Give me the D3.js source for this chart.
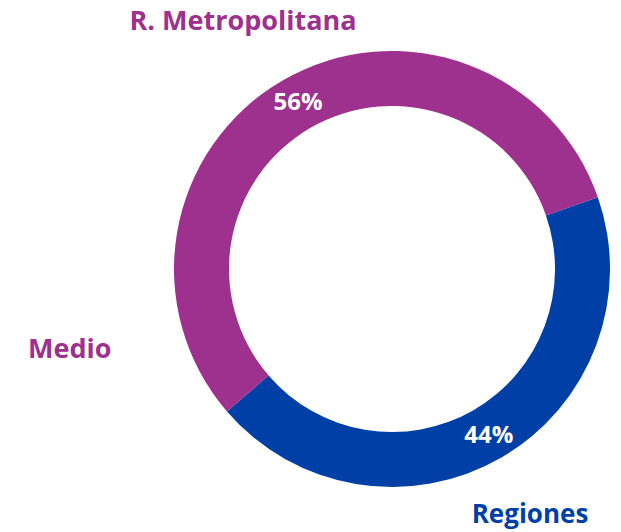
<!DOCTYPE html>
<html>
<head>
<meta charset="utf-8">
<script src="https://cdn.jsdelivr.net/npm/d3@7"></script>
<style>
  body { margin: 0; background: #fff; }
  text { font-family: "Open Sans", Lato, sans-serif; font-weight: bold; }
</style>
</head>
<body>
<div class="chart"></div>
<script>
// DATA ------------------------------
let categories = ["Regiones", "R. Metropolitana"];
let values = [44, 56];
let pctLabels = ["44%", "56%"];
let colors = ["#0040A6", "#9E308E"];

// CHART ------------------------------
let width = 621, height = 532;
let cx = 392, cy = 269;
let outerR = 218, innerR = 163;

let svg = d3.select(".chart")
  .append("svg")
  .attr("width", width)
  .attr("height", height);

let g = svg.append("g")
  .attr("transform", "translate(" + cx + "," + cy + ")");

// blue slice starts at ~70.8deg clockwise from top
let start = 70.8 * Math.PI / 180;
let pie = d3.pie()
  .sort(null)
  .value(d => d)
  .startAngle(start)
  .endAngle(start + 2 * Math.PI);

let arc = d3.arc().innerRadius(innerR).outerRadius(outerR);

let arcs = pie(values);

g.selectAll("path.slice")
  .data(arcs)
  .enter()
  .append("path")
  .attr("class", "slice")
  .attr("d", arc)
  .attr("fill", (d, i) => colors[i]);

// percent labels inside ring, placed near where the reference shows them
let pctAngles = [149.7 * Math.PI / 180, 330.7 * Math.PI / 180];
let pctR = 192;
g.selectAll("text.pct")
  .data(pctLabels)
  .enter()
  .append("text")
  .attr("class", "pct")
  .attr("x", (d, i) => Math.sin(pctAngles[i]) * pctR)
  .attr("y", (d, i) => -Math.cos(pctAngles[i]) * pctR)
  .attr("dy", "0.35em")
  .attr("text-anchor", "middle")
  .attr("fill", "#fff")
  .attr("font-size", 24)
  .text(d => d);

// category labels
svg.append("text")
  .attr("x", 243).attr("y", 30)
  .attr("text-anchor", "middle")
  .attr("fill", colors[1])
  .attr("font-size", 27)
  .text(categories[1]);

svg.append("text")
  .attr("x", 28).attr("y", 358)
  .attr("fill", colors[1])
  .attr("font-size", 27)
  .text("Medio");

svg.append("text")
  .attr("x", 530).attr("y", 523)
  .attr("text-anchor", "middle")
  .attr("fill", colors[0])
  .attr("font-size", 26)
  .text(categories[0]);
</script>
</body>
</html>
